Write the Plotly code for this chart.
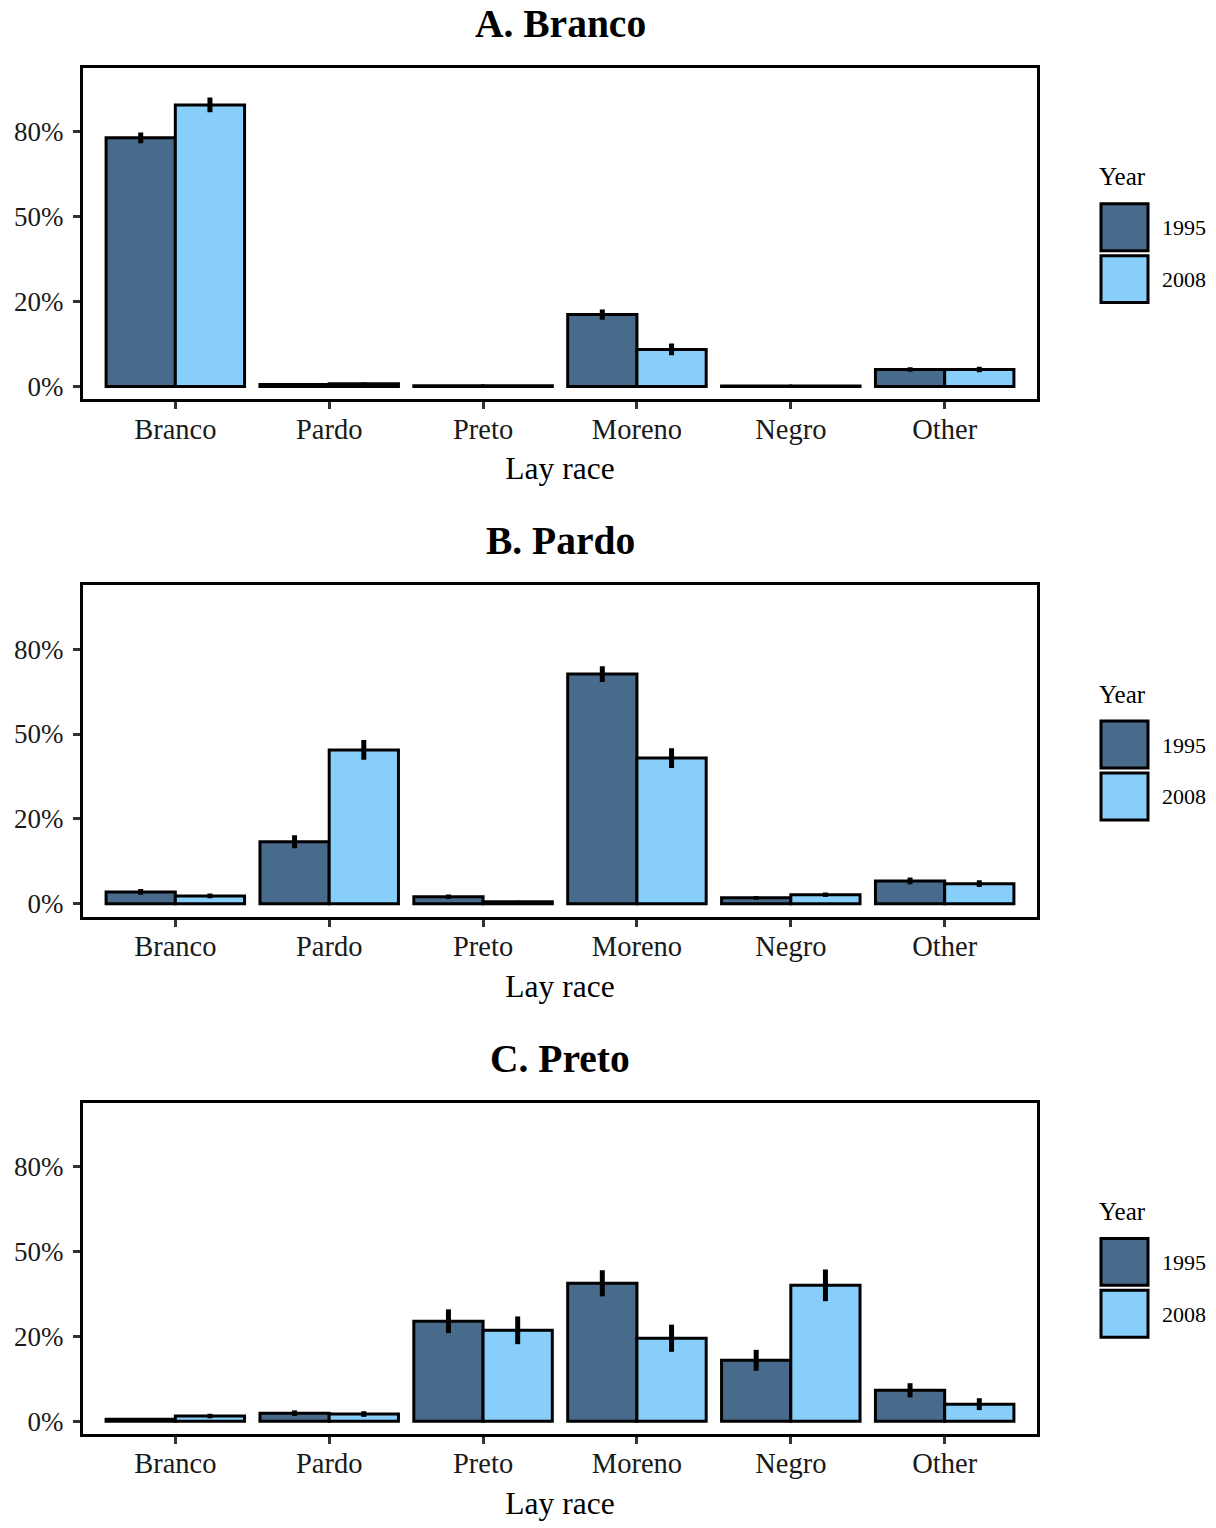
import plotly.graph_objects as go

categories = ["Branco", "Pardo", "Preto", "Moreno", "Negro", "Other"]
years = ["1995", "2008"]
panel_titles = ["A. Branco", "B. Pardo", "C. Preto"]

# values in axis units (ticks at 0, 0.3, 0.6, 0.9 labelled 0%, 20%, 50%, 80%)
a_1995 = [0.879, 0.007, 0.003, 0.254, 0.002, 0.060]
a_2008 = [0.995, 0.010, 0.003, 0.131, 0.002, 0.060]
a_err_1995 = [0.019, 0.004, 0.002, 0.018, 0.002, 0.008]
a_err_2008 = [0.026, 0.004, 0.002, 0.021, 0.002, 0.010]

b_1995 = [0.042, 0.219, 0.025, 0.812, 0.021, 0.081]
b_2008 = [0.028, 0.544, 0.007, 0.515, 0.032, 0.071]
b_err_1995 = [0.010, 0.023, 0.008, 0.028, 0.007, 0.012]
b_err_2008 = [0.008, 0.035, 0.004, 0.035, 0.008, 0.012]

c_1995 = [0.007, 0.028, 0.353, 0.487, 0.215, 0.109]
c_2008 = [0.018, 0.025, 0.321, 0.293, 0.480, 0.060]
c_err_1995 = [0.004, 0.010, 0.042, 0.046, 0.037, 0.025]
c_err_2008 = [0.008, 0.010, 0.049, 0.048, 0.056, 0.021]

y_tickvals = [0, 0.3, 0.6, 0.9]
y_ticktext = ["0%", "20%", "50%", "80%"]

panels = [
    (a_1995, a_2008, a_err_1995, a_err_2008),
    (b_1995, b_2008, b_err_1995, b_err_2008),
    (c_1995, c_2008, c_err_1995, c_err_2008),
]
colors = {"1995": "#486A8B", "2008": "#87CEFA"}

W, H = 1216, 1528
FONT = "Liberation Serif"
plot_x0, plot_x1 = 83, 1037
panel_tops = [68, 586, 1104]
panel_h = 332

fig = go.Figure()
shapes = []
annotations = []

for i, (v95, v08, e95, e08) in enumerate(panels):
    xa = "x" if i == 0 else f"x{i+1}"
    ya = "y" if i == 0 else f"y{i+1}"
    for yr, vals, errs in (("1995", v95, e95), ("2008", v08, e08)):
        fig.add_trace(go.Bar(
            x=categories, y=vals, name=yr, xaxis=xa, yaxis=ya,
            offsetgroup=yr,
            marker=dict(color=colors[yr], line=dict(color="black", width=3)),
            error_y=dict(type="data", array=errs, visible=True, color="black",
                         thickness=5, width=0),
            showlegend=False,
        ))
    top = panel_tops[i]
    bot = top + panel_h
    xkey = "xaxis" if i == 0 else f"xaxis{i+1}"
    ykey = "yaxis" if i == 0 else f"yaxis{i+1}"
    fig.layout[xkey] = dict(
        domain=[plot_x0 / W, plot_x1 / W], anchor=ya,
        type="category", range=[-0.6, 5.6],
        showline=True, mirror=True, linecolor="black", linewidth=3,
        ticks="outside", ticklen=7, tickwidth=2.5, tickcolor="#333333",
        ticklabelstandoff=-5,
        tickfont=dict(family=FONT, size=28.5, color="#1a1a1a"),
        title=dict(text="Lay race", font=dict(family=FONT, size=31.5, color="black"), standoff=14),
        showgrid=False, zeroline=False, fixedrange=True,
    )
    fig.layout[ykey] = dict(
        domain=[1 - bot / H, 1 - top / H], anchor=xa,
        range=[-0.0459, 1.1259],
        tickvals=y_tickvals, ticktext=y_ticktext,
        showline=True, mirror=True, linecolor="black", linewidth=3,
        ticks="outside", ticklen=7, tickwidth=2.5, tickcolor="#333333",
        ticklabelstandoff=4,
        tickfont=dict(family=FONT, size=27, color="#1a1a1a"),
        showgrid=False, zeroline=False, fixedrange=True,
    )
    # panel title
    annotations.append(dict(
        text=f"<b>{panel_titles[i]}</b>", xref="paper", yref="paper",
        x=(plot_x0 + plot_x1) / 2 / W, y=1 - (top - 44) / H,
        xanchor="center", yanchor="middle", showarrow=False,
        font=dict(family=FONT, size=39.5, color="black"),
    ))
    # legend
    annotations.append(dict(
        text="Year", xref="paper", yref="paper",
        x=1097 / W, y=1 - (top + 109) / H, xanchor="left", yanchor="middle",
        showarrow=False, font=dict(family=FONT, size=25, color="black"),
    ))
    for k, yr in enumerate(years):
        y0 = top + 136 + k * 52
        shapes.append(dict(
            type="rect", xref="paper", yref="paper",
            x0=1101 / W, x1=1148 / W, y0=1 - (y0 + 47) / H, y1=1 - y0 / H,
            fillcolor=colors[yr], line=dict(color="black", width=3),
        ))
        annotations.append(dict(
            text=yr, xref="paper", yref="paper",
            x=1160 / W, y=1 - (y0 + 24) / H, xanchor="left", yanchor="middle",
            showarrow=False, font=dict(family=FONT, size=22, color="black"),
        ))

fig.update_layout(
    width=W, height=H,
    margin=dict(l=0, r=0, t=0, b=0),
    paper_bgcolor="white", plot_bgcolor="white",
    barmode="group", bargap=0.1, bargroupgap=0,
    font=dict(family=FONT),
    shapes=shapes, annotations=annotations,
    showlegend=False,
)

fig.write_html("out.html", config={"displayModeBar": False},
               post_script="document.body.style.margin='0';document.body.style.overflow='hidden';")
